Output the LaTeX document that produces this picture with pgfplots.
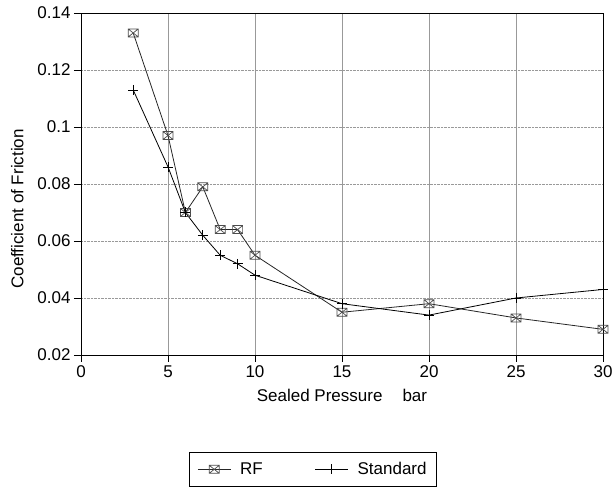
\documentclass[border=0pt]{standalone}
\usepackage{fontspec}
\setmainfont{Liberation Sans}
\usepackage{pgfplots}
\pgfplotsset{compat=1.18}

\pgfdeclareplotmark{boxx}{%
  \pgfpathrectangle{\pgfpoint{-1.25\pgfplotmarksize}{-\pgfplotmarksize}}{\pgfpoint{2.5\pgfplotmarksize}{2\pgfplotmarksize}}%
  \pgfpathmoveto{\pgfpoint{-1.25\pgfplotmarksize}{-\pgfplotmarksize}}%
  \pgfpathlineto{\pgfpoint{1.25\pgfplotmarksize}{\pgfplotmarksize}}%
  \pgfpathmoveto{\pgfpoint{-1.25\pgfplotmarksize}{\pgfplotmarksize}}%
  \pgfpathlineto{\pgfpoint{1.25\pgfplotmarksize}{-\pgfplotmarksize}}%
  \pgfusepathqstroke}

\newcommand{\fs}{\fontsize{17}{20}\selectfont}

\begin{document}
\begin{tikzpicture}
\begin{axis}[
  name=ax,
  scale only axis,
  width=522pt, height=342pt,
  xmin=0, xmax=30, ymin=0.02, ymax=0.14,
  xtick={0,5,10,15,20,25,30},
  ytick={0.02,0.04,0.06,0.08,0.1,0.12,0.14},
  yticklabels={0.02,0.04,0.06,0.08,0.1,0.12,0.14},
  scaled y ticks=false,
  xtick pos=bottom, ytick pos=left,
  tick align=outside, major tick length=7pt,
  tick style={black, line width=0.6pt},
  axis line style={black, line width=0.8pt},
  grid=major,
  x grid style={gray!80, line width=0.5pt},
  y grid style={gray!80, densely dotted, line width=0.7pt},
  /pgf/number format/assume math mode=true,
  tick label style={font=\fs},
  label style={font=\fs},
  xlabel={Sealed Pressure\hspace{0.9em} bar},
  ylabel={Coefficient of Friction},
  xlabel style={yshift=-5pt},
  ylabel style={at={(ticklabel cs:0.427)}, yshift=7pt},
  legend columns=2,
  legend style={at={(0.207,-0.284)}, anchor=north west, draw=black,
    line width=0.6pt, font=\fs, inner xsep=8pt, inner ysep=8pt,
    /tikz/every odd column/.append style={column sep=7pt},
    /tikz/every even column/.append style={column sep=50pt}},
  legend image code/.code={%
    \draw[mark repeat=2,mark phase=2] plot coordinates {(0pt,0pt) (16.5pt,0pt) (33pt,0pt)};},
]
\addplot[black!85, line width=0.8pt, mark=boxx, mark size=4pt,
  mark options={draw=gray!60!black, line width=0.7pt, solid}]
  coordinates {(3,0.133) (5,0.097) (6,0.070) (7,0.079) (8,0.064) (9,0.064)
               (10,0.055) (15,0.035) (20,0.038) (25,0.033) (30,0.029)};
\addlegendentry{RF}
\addplot[black, line width=0.8pt, mark=+, mark size=5pt,
  mark options={line width=0.7pt, solid}]
  coordinates {(3,0.113) (5,0.086) (6,0.070) (7,0.062) (8,0.055) (9,0.052)
               (10,0.048) (15,0.038) (20,0.034) (25,0.040) (30,0.043)};
\addlegendentry{Standard\hspace{5pt}}
\end{axis}
\pgfresetboundingbox
\path (ax.south west) ++(-81pt,-134pt) coordinate (bl);
\path (ax.north east) ++(12pt,13pt) coordinate (tr);
\useasboundingbox (bl) rectangle (tr);
\end{tikzpicture}
\end{document}
